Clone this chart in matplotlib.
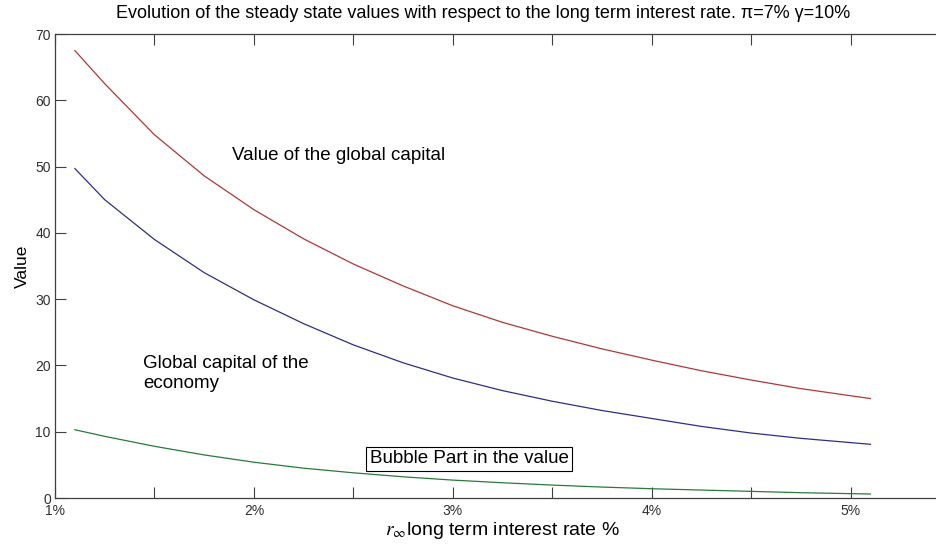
import matplotlib
matplotlib.use('Agg')
import matplotlib.pyplot as plt

plt.rcParams['font.family'] = ['Liberation Sans', 'DejaVu Sans']
plt.rcParams['mathtext.fontset'] = 'stix'

# long term interest rate (%)
rate = [1.1, 1.25, 1.5, 1.75, 2.0, 2.25, 2.5, 2.75, 3.0, 3.25, 3.5,
        3.75, 4.0, 4.25, 4.5, 4.75, 5.1]
# value of the global capital
value_total = [67.5, 62.5, 54.8, 48.6, 43.5, 39.1, 35.3, 32.0, 29.0, 26.5,
               24.4, 22.5, 20.8, 19.2, 17.8, 16.5, 15.0]
# global capital of the economy
capital = [49.7, 45.0, 39.0, 34.0, 29.9, 26.3, 23.1, 20.4, 18.1, 16.2,
           14.6, 13.2, 12.0, 10.8, 9.8, 9.0, 8.1]
# bubble part in the value
bubble = [10.3, 9.3, 7.8, 6.5, 5.4, 4.5, 3.8, 3.2, 2.7, 2.3, 1.95,
          1.65, 1.4, 1.2, 1.0, 0.8, 0.6]

x_major = [1, 2, 3, 4, 5]
x_labels = ['1%', '2%', '3%', '4%', '5%']
x_minor = [1.5, 2.5, 3.5, 4.5]
y_ticks = [0, 10, 20, 30, 40, 50, 60, 70]

W, H = 936, 545
fig = plt.figure(figsize=(W / 100, H / 100), dpi=100)
# axes runs past the right edge of the picture, like the cropped original
ax = fig.add_axes([55 / W, 1 - 498 / H, (950 - 55) / W, (498 - 34) / H])

ax.plot(rate, value_total, color='#b03838', lw=0.9)
ax.plot(rate, capital, color='#2e2e8a', lw=0.9)
ax.plot(rate, bubble, color='#2a7a3a', lw=0.9)

ax.set_xlim(1, 5.5)
ax.set_ylim(0, 70)
ax.set_xticks(x_major)
ax.set_xticklabels(x_labels)
ax.set_xticks(x_minor, minor=True)
ax.set_yticks(y_ticks)

ax.tick_params(axis='both', which='both', direction='in', length=8,
               width=0.8, color='#404040', labelsize=10,
               labelcolor='#303030', top=True, right=False)
ax.tick_params(axis='x', pad=4)
ax.tick_params(axis='y', pad=3)
for side in ax.spines.values():
    side.set_color('#404040')
    side.set_linewidth(0.9)

ax.set_ylabel('Value', fontsize=12.5, labelpad=4)
ax.set_xlabel(r'$r_\infty$long term interest rate %', fontsize=14, labelpad=2)
fig.text(483 / W, 1 - 13 / H,
         'Evolution of the steady state values with respect to the long term interest rate. '
         '\u03c0=7% \u03b3=10%', ha='center', va='center', fontsize=13)

ax.text(1.889, 51.7, 'Value of the global capital', fontsize=13.5,
        va='center', ha='left')
ax.text(1.442, 18.8, 'Global capital of the\neconomy', fontsize=13.5,
        va='center', ha='left', linespacing=1.2)
ax.text(2.583, 5.9, 'Bubble Part in the value', fontsize=13.5,
        va='center', ha='left',
        bbox=dict(boxstyle='square,pad=0.2', fc='white', ec='black', lw=0.8))

fig.savefig('out.png', dpi=100)
